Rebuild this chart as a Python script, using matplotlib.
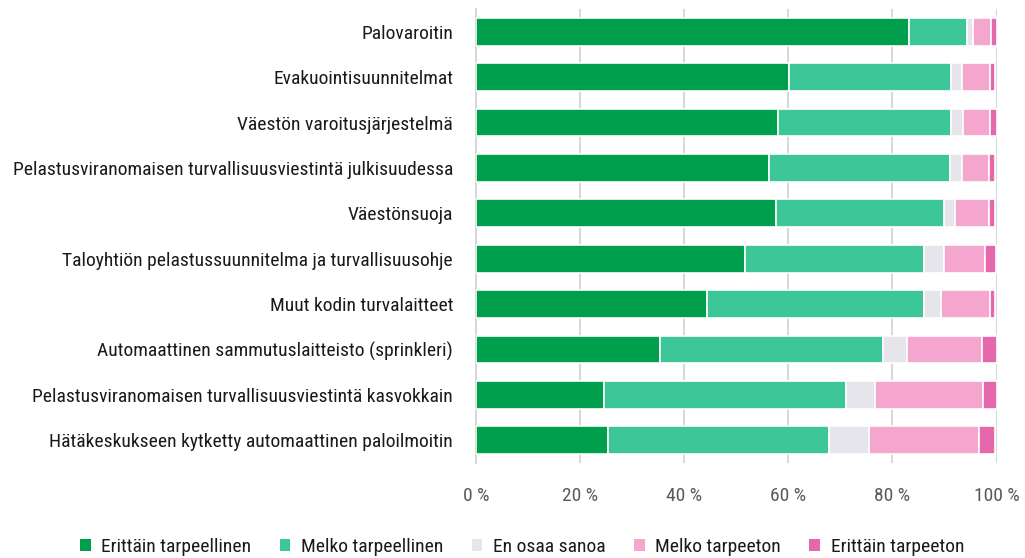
#!/usr/bin/env python3
"""Stacked horizontal bars: how necessary respondents consider safety measures."""

import matplotlib
matplotlib.use("Agg")
import matplotlib.pyplot as plt
from matplotlib import font_manager
from matplotlib.patches import Patch
import numpy as np

categories = [
    "Palovaroitin",
    "Evakuointisuunnitelmat",
    "Väestön varoitusjärjestelmä",
    "Pelastusviranomaisen turvallisuusviestintä julkisuudessa",
    "Väestönsuoja",
    "Taloyhtiön pelastussuunnitelma ja turvallisuusohje",
    "Muut kodin turvalaitteet",
    "Automaattinen sammutuslaitteisto (sprinkleri)",
    "Pelastusviranomaisen turvallisuusviestintä kasvokkain",
    "Hätäkeskukseen kytketty automaattinen paloilmoitin",
]

series_names = [
    "Erittäin tarpeellinen",
    "Melko tarpeellinen",
    "En osaa sanoa",
    "Melko tarpeeton",
    "Erittäin tarpeeton",
]

erittain_tarpeellinen = [83.2, 60.1, 58.1, 56.2, 57.6, 51.7, 44.4, 35.3, 24.6, 25.4]
melko_tarpeellinen = [11.1, 31.2, 33.1, 34.9, 32.3, 34.4, 41.6, 42.8, 46.5, 42.5]
en_osaa_sanoa = [1.2, 2.1, 2.3, 2.3, 2.2, 3.8, 3.4, 4.7, 5.5, 7.7]
melko_tarpeeton = [3.5, 5.4, 5.2, 5.1, 6.4, 7.8, 9.3, 14.4, 20.8, 21.0]
erittain_tarpeeton = [1.0, 1.0, 1.3, 1.3, 1.3, 2.2, 1.1, 2.8, 2.6, 3.1]

colors = ["#009F4D", "#3DC697", "#E7E5EC", "#F4A6CE", "#E668AC"]

tick_values = [0, 20, 40, 60, 80, 100]
tick_labels = ["0 %", "20 %", "40 %", "60 %", "80 %", "100 %"]

values = [erittain_tarpeellinen, melko_tarpeellinen, en_osaa_sanoa,
          melko_tarpeeton, erittain_tarpeeton]

# the original uses a condensed face; take the narrowest one installed
installed = {f.name for f in font_manager.fontManager.ttflist}
stretch = "normal"
family = "Roboto"
for cand in ["Roboto Condensed", "Open Sans Condensed", "Liberation Sans Narrow",
             "Noto Sans Condensed", "DejaVu Sans Condensed"]:
    if cand in installed:
        family = cand
        break
else:
    if any(f.name == "DejaVu Sans" and f.stretch in ("condensed", 500)
           for f in font_manager.fontManager.ttflist):
        family, stretch = "DejaVu Sans", "condensed"
plt.rcParams["font.family"] = [family, "DejaVu Sans"]
plt.rcParams["font.stretch"] = stretch

fig = plt.figure(figsize=(10.25, 5.58), dpi=100)

# size the text so the longest label spans what it does in the original (~453 px)
probe = fig.text(0, 0, categories[3], fontsize=12)
fig.canvas.draw()
w = probe.get_window_extent().width
probe.remove()
fs = min(14.0, 12 * 450 / w)

ax = fig.add_axes([476 / 1025, 1 - 463 / 558, (996.5 - 476) / 1025, (463 - 9) / 558])

y = np.arange(len(categories))
left = np.zeros(len(categories))
for name, vals, col in zip(series_names, values, colors):
    vals = np.array(vals)
    ax.barh(y, vals, left=left, height=0.615, color=col,
            edgecolor="white", linewidth=1.2, label=name, zorder=3)
    left += vals

ax.set_ylim(len(categories) - 0.5, -0.5)
ax.set_xlim(0, 100)
ax.set_yticks(y)
ax.set_yticklabels(categories, fontsize=fs, color="#1a1a1a")
ax.set_xticks(tick_values)
ax.set_xticklabels(tick_labels, fontsize=fs, color="#595959")
ax.tick_params(axis="both", length=0)
ax.tick_params(axis="y", pad=16.5)
ax.tick_params(axis="x", pad=17)

ax.grid(axis="x", color="#D9D9D9", linewidth=1.5, zorder=0)
for side in ["top", "right", "bottom"]:
    ax.spines[side].set_visible(False)
ax.spines["left"].set_color("#D9D9D9")
ax.spines["left"].set_linewidth(1.5)

handles = [Patch(facecolor=c, edgecolor="none") for c in colors]
fig.legend(handles, series_names, loc="center", ncol=5,
           bbox_to_anchor=(522 / 1025, 1 - 547 / 558), frameon=False,
           fontsize=fs, handlelength=0.55, handleheight=0.55,
           handletextpad=0.55, columnspacing=1.45, labelcolor="#1a1a1a")

fig.savefig("out.png", dpi=100)
